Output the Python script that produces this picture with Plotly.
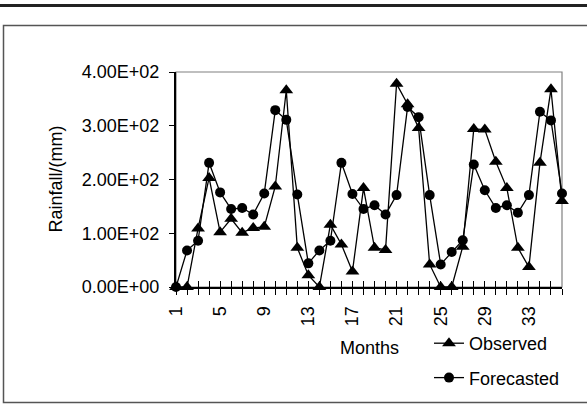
import plotly.graph_objects as go

months = list(range(1, 37))
observed = [0, 0, 109, 203, 102, 127, 101, 110, 112, 187, 366, 73, 22, 0, 116, 79,
            29, 184, 73, 69, 378, 340, 296, 42, 0, 0, 75, 294, 293, 233, 184, 73,
            37, 231, 368, 160]
forecasted = [0, 68, 86, 231, 176, 145, 147, 135, 174, 329, 311, 172, 44, 68, 86, 231,
              173, 145, 152, 135, 171, 335, 316, 171, 42, 65, 87, 228, 180, 147, 152, 138,
              171, 326, 310, 174]
y_ticks = [0, 100, 200, 300, 400]
y_tick_labels = ["0.00E+00", "1.00E+02", "2.00E+02", "3.00E+02", "4.00E+02"]
x_tick_labels = [str(m) if (m - 1) % 4 == 0 else "" for m in months]

FONT = "Liberation Sans, Arial, sans-serif"
FS = 18
L, R, T, B = 176, 562, 72, 287
W, H = 587, 405


def px(x):
    return (x - L) / (R - L)


def py(y):
    return (B - y) / (B - T)


fig = go.Figure()
fig.add_trace(go.Scatter(
    x=months, y=observed, name="Observed", mode="lines+markers",
    line=dict(color="black", width=1.3),
    marker=dict(symbol="triangle-up", size=12, color="black"),
    cliponaxis=False, legendgroup="a"))
fig.add_trace(go.Scatter(
    x=months, y=forecasted, name="Forecasted", mode="lines+markers",
    line=dict(color="black", width=1.3),
    marker=dict(symbol="circle", size=10, color="black"),
    cliponaxis=False, legendgroup="b"))

fig.update_layout(
    width=W, height=H,
    margin=dict(l=L, r=W - R, t=T, b=H - B, autoexpand=False),
    paper_bgcolor="white", plot_bgcolor="white",
    font=dict(family=FONT, size=FS, color="black"),
    showlegend=True,
    legend=dict(x=px(429), y=py(325), xanchor="left", yanchor="top",
                bgcolor="rgba(0,0,0,0)", font=dict(size=FS),
                tracegroupgap=8, itemwidth=30),
    xaxis=dict(range=[1, 36], tickmode="array", tickvals=months, ticktext=x_tick_labels,
               tickangle=-90, ticks="outside", ticklen=6, tickwidth=1.3, tickcolor="black",
               showline=True, linecolor="black", linewidth=2, showgrid=False,
               zeroline=False, tickfont=dict(size=FS), ticklabelstandoff=4, automargin=False),
    xaxis2=dict(range=[1, 36], overlaying="x", matches="x", tickmode="array",
                tickvals=months, ticktext=["" for _ in months], ticks="inside",
                ticklen=6, tickwidth=1.3, tickcolor="black", showline=False,
                showgrid=False, zeroline=False, side="bottom", anchor="y", automargin=False),
    yaxis=dict(range=[0, 400], tickmode="array", tickvals=y_ticks, ticktext=y_tick_labels,
               ticks="outside", ticklen=5, tickwidth=1.3, tickcolor="black",
               showline=True, linecolor="black", linewidth=2, showgrid=False,
               zeroline=False, tickfont=dict(size=FS), ticklabelstandoff=6, automargin=False),
)
# invisible trace to activate xaxis2 (cross ticks)
fig.add_trace(go.Scatter(x=[1], y=[0], xaxis="x2", mode="markers",
                         marker=dict(opacity=0), showlegend=False, hoverinfo="skip"))

shapes = [
    dict(type="rect", xref="paper", yref="paper", x0=0, x1=1, y0=0, y1=1,
         line=dict(color="#808080", width=1.2), layer="below"),
    dict(type="line", xref="paper", yref="paper", x0=px(0), x1=px(W), y0=py(5.5), y1=py(5.5),
         line=dict(color="#222222", width=3)),
    dict(type="rect", xref="paper", yref="paper", x0=px(3.5), x1=px(W + 5), y0=py(402.5), y1=py(25.5),
         line=dict(color="#555555", width=1.5)),
]
fig.update_layout(shapes=shapes)

fig.add_annotation(text="Months", xref="paper", yref="paper", x=px(369), y=py(348),
                   showarrow=False, font=dict(size=FS), xanchor="center", yanchor="middle")
fig.add_annotation(text="Rainfall/(mm)", xref="paper", yref="paper", x=px(55), y=0.5,
                   showarrow=False, font=dict(size=FS), textangle=-90,
                   xanchor="center", yanchor="middle")

fig.write_html("out.html", config={"displayModeBar": False},
               post_script="document.body.style.margin='0';")
